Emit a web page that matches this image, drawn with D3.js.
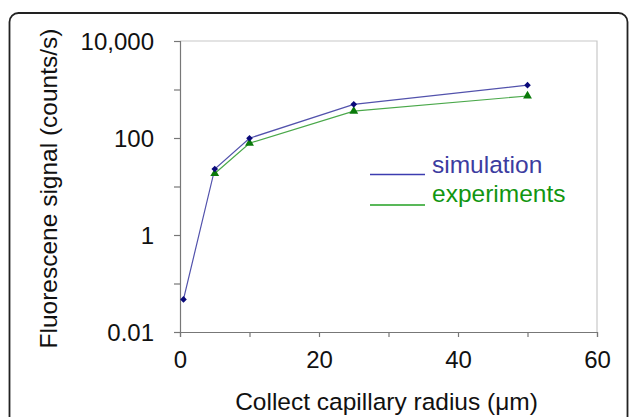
<!DOCTYPE html>
<html><head><meta charset="utf-8">
<script src="https://cdn.jsdelivr.net/npm/d3@7"></script>
<style>body{margin:0;background:#fff}svg{display:block}</style>
</head><body>
<svg id="c" width="629" height="417"></svg>
<script>
const simX = [0.5, 5, 10, 25, 50];
const simY = [0.047, 23, 99, 495, 1230];
const expX = [5, 10, 25, 50];
const expY = [18.5, 78, 358, 735];
const xTicks = [0, 20, 40, 60];
const xMinor = [10, 30, 50];
const yTicks = [0.01, 1, 100, 10000];
const yTickLabels = ["0.01", "1", "100", "10,000"];
const yMinor = [0.1, 10, 1000];
const seriesNames = ["simulation", "experiments"];

const svg = d3.select("#c");
const F = "'Liberation Sans', Arial, Helvetica, sans-serif";
const L = 180, R = 597, T = 41, B = 332;
const x = d3.scaleLinear().domain([0, 60]).range([L, R]);
const y = d3.scaleLog().domain([0.01, 10000]).range([B, T]);

// outer rounded frame
svg.append("rect").attr("x", 9.5).attr("y", 13).attr("width", 618).attr("height", 430)
  .attr("rx", 9).attr("fill", "none").attr("stroke", "#222").attr("stroke-width", 1.8);

// plot border (top, right)
svg.append("path").attr("d", `M${L},${T}H${R}V${B}`).attr("fill", "none")
  .attr("stroke", "#c8c8c8").attr("stroke-width", 1.2);

// y axis
const yAxis = d3.axisLeft(y).tickValues(yTicks.concat(yMinor)).tickSize(6).tickFormat(d => {
  const i = yTicks.indexOf(d); return i >= 0 ? yTickLabels[i] : "";
});
const gy = svg.append("g").attr("transform", `translate(${L},0)`).call(yAxis);
gy.select(".domain").attr("stroke", "#777").attr("stroke-width", 1.2);
gy.selectAll(".tick line").attr("stroke", "#777").attr("stroke-width", 1.2);
gy.selectAll(".tick text").attr("font-family", F).attr("font-size", 24).attr("fill", "#111")
  .attr("x", -26).attr("dy", "0.36em");

// x axis
const xAxis = d3.axisBottom(x).tickValues(xTicks.concat(xMinor)).tickSize(5).tickFormat(d => xTicks.includes(d) ? d : "");
const gx = svg.append("g").attr("transform", `translate(0,${B})`).call(xAxis);
gx.select(".domain").attr("stroke", "#777").attr("stroke-width", 1.2);
gx.selectAll(".tick line").attr("stroke", "#777").attr("stroke-width", 1.2);
gx.selectAll(".tick text").attr("font-family", F).attr("font-size", 24).attr("fill", "#111")
  .attr("y", 19).attr("dy", "0.71em");

// axis titles
svg.append("text").attr("x", (L + R) / 2 - 2).attr("y", 410).attr("text-anchor", "middle")
  .attr("font-family", F).attr("font-size", 24.5).attr("fill", "#111").text("Collect capillary radius (μm)");
svg.append("text").attr("transform", `translate(57,${(T + B) / 2 + 2}) rotate(-90)`).attr("text-anchor", "middle")
  .attr("font-family", F).attr("font-size", 24.5).attr("fill", "#111").text("Fluorescene signal (counts/s)");

// lines
const line = d3.line().x(d => x(d[0])).y(d => y(d[1]));
const simData = simX.map((v, i) => [v, simY[i]]);
const expData = expX.map((v, i) => [v, expY[i]]);
svg.append("path").datum(expData).attr("d", line).attr("fill", "none").attr("stroke", "#4aa84a").attr("stroke-width", 1.2);
svg.append("path").datum(simData).attr("d", line).attr("fill", "none").attr("stroke", "#5252ac").attr("stroke-width", 1.2);

// markers
svg.selectAll(".tri").data(expData).join("path")
  .attr("transform", d => `translate(${x(d[0])},${y(d[1])})`)
  .attr("d", d3.symbol(d3.symbolTriangle, 34)).attr("fill", "#0a7a0a");
svg.selectAll(".dia").data(simData).join("path")
  .attr("transform", d => `translate(${x(d[0])},${y(d[1])}) rotate(45)`)
  .attr("d", d3.symbol(d3.symbolSquare, 22)).attr("fill", "#0a0a7a");

// legend
const leg = [{name: seriesNames[0], c: "#3c3ca0", lc: "#3c3cb0", ty: 173, ly: 174.5},
             {name: seriesNames[1], c: "#119611", lc: "#22a022", ty: 202, ly: 205}];
leg.forEach(d => {
  svg.append("line").attr("x1", 370).attr("x2", 425).attr("y1", d.ly).attr("y2", d.ly)
    .attr("stroke", d.lc).attr("stroke-width", 1.5);
  svg.append("text").attr("x", 432).attr("y", d.ty).attr("font-family", F).attr("font-size", 24.5)
    .attr("fill", d.c).text(d.name);
});
</script>
</body></html>
